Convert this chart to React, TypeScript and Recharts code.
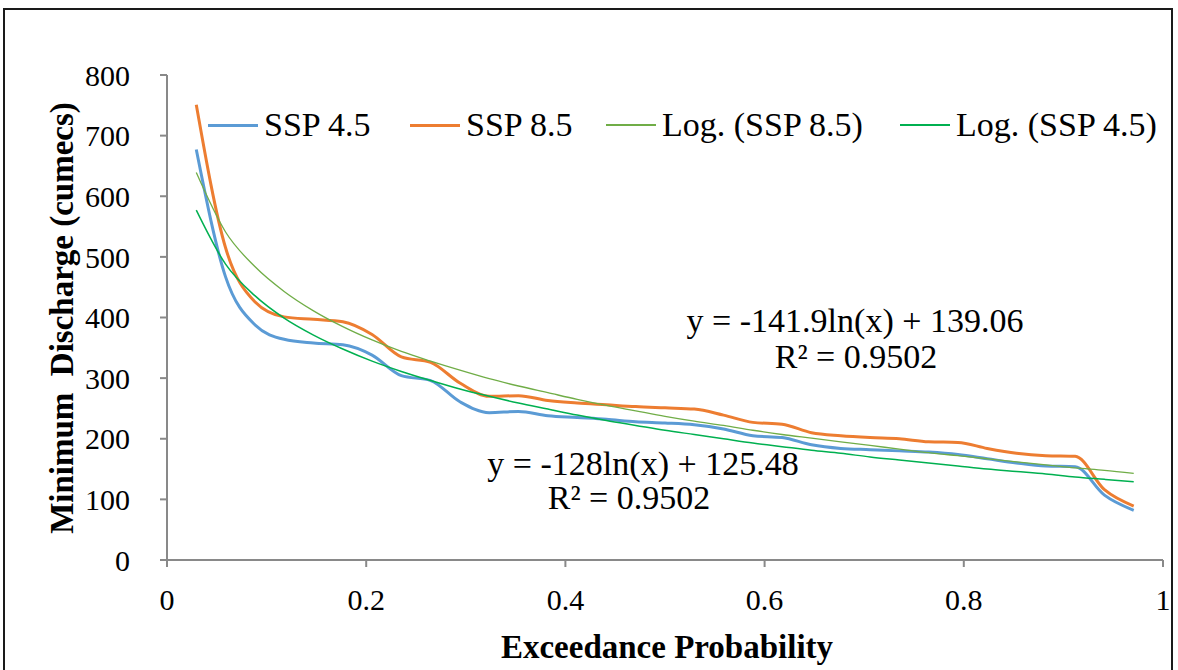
import React from "react";
import { LineChart, Line, XAxis, YAxis } from "recharts";

// exceedance probability of each ranked year
const probability = [
  0.0294, 0.0588, 0.0882, 0.1176, 0.1471, 0.1765, 0.2059, 0.2353, 0.2647, 0.2941,
  0.3235, 0.3529, 0.3824, 0.4118, 0.4412, 0.4706, 0.5, 0.5294, 0.5588, 0.5882,
  0.6176, 0.6471, 0.6765, 0.7059, 0.7353, 0.7647, 0.7941, 0.8235, 0.8529, 0.8824,
  0.9118, 0.9412, 0.9706,
];

const ssp45 = [
  677, 467, 388, 364, 358, 355, 338, 304, 296, 261, 243, 245, 238, 235, 232, 228,
  226, 223, 216, 205, 202, 190, 184, 182, 180, 178, 174, 167, 160, 155, 154, 107, 82,
];

const ssp85 = [
  751, 515, 426, 401, 397, 393, 372, 335, 326, 292, 270, 271, 263, 259, 256, 253,
  251, 249, 239, 227, 224, 210, 205, 202, 200, 195, 194, 184, 176, 172, 171, 116, 89,
];

const logSsp85 = [
  639, 541, 484, 443, 411, 385, 363, 344, 328, 313, 299, 287, 276, 265, 255, 246,
  237, 229, 222, 214, 207, 201, 195, 189, 183, 177, 172, 167, 162, 157, 152, 148, 143,
];

const logSsp45 = [
  577, 488, 436, 399, 371, 348, 328, 311, 296, 282, 270, 259, 249, 239, 230, 222,
  214, 207, 200, 193, 187, 181, 176, 170, 165, 160, 155, 150, 146, 142, 137, 133, 129,
];

const xTicks = [0, 0.2, 0.4, 0.6, 0.8, 1];
const yTicks = [0, 100, 200, 300, 400, 500, 600, 700, 800];

const series = [
  { key: "ssp45", name: "SSP 4.5", color: "#5B9BD5", width: 3, legendX: 208 },
  { key: "ssp85", name: "SSP 8.5", color: "#ED7D31", width: 3, legendX: 410 },
  { key: "logSsp85", name: "Log. (SSP 8.5)", color: "#70AD47", width: 1.3, legendX: 606 },
  { key: "logSsp45", name: "Log. (SSP 4.5)", color: "#00B050", width: 1.5, legendX: 900 },
];

const data = probability.map((p, i) => ({
  p,
  ssp45: ssp45[i],
  ssp85: ssp85[i],
  logSsp85: logSsp85[i],
  logSsp45: logSsp45[i],
}));

const font = "'Liberation Serif', 'Times New Roman', serif";
const axisColor = "#898989";

const text = (left: number, top: number, size: number, extra = {}) =>
  ({
    position: "absolute",
    left,
    top,
    fontSize: size,
    fontFamily: font,
    color: "#000",
    whiteSpace: "nowrap",
    lineHeight: 1,
    ...extra,
  } as React.CSSProperties);

const centered = { transform: "translate(-50%, -50%)" };

export default function App() {
  return (
    <div
      style={{
        position: "absolute",
        left: 0,
        top: 0,
        width: 1178,
        height: 670,
        background: "#fff",
        overflow: "hidden",
      }}
    >
      <div
        style={{
          position: "absolute",
          left: 3,
          top: 8,
          width: 1166,
          height: 720,
          border: "2px solid #1a1a1a",
        }}
      />
      <LineChart
        width={1178}
        height={670}
        data={data}
        margin={{ top: 75, right: 15, bottom: 60, left: 107 }}
      >
        <XAxis
          type="number"
          dataKey="p"
          domain={[0, 1]}
          ticks={xTicks}
          tickFormatter={(v) => String(v)}
          stroke={axisColor}
          strokeWidth={2}
          tickSize={7}
          tickMargin={22}
          height={50}
          tick={{ fill: "#000", fontSize: 30, fontFamily: font }}
        />
        <YAxis
          type="number"
          domain={[0, 800]}
          ticks={yTicks}
          stroke={axisColor}
          strokeWidth={2}
          tickSize={7}
          tickMargin={30}
          width={60}
          tick={{ fill: "#000", fontSize: 30, fontFamily: font }}
        />
        {series.map((s) => (
          <Line
            key={s.key}
            dataKey={s.key}
            name={s.name}
            type="monotone"
            stroke={s.color}
            strokeWidth={s.width}
            dot={false}
            isAnimationActive={false}
          />
        ))}
      </LineChart>

      {/* legend */}
      {series.map((s) => (
        <div
          key={s.key}
          style={{
            position: "absolute",
            left: s.legendX,
            top: 125,
            transform: "translateY(-50%)",
            display: "flex",
            alignItems: "center",
          }}
        >
          <div
            style={{
              width: 50,
              height: 0,
              borderTop: `${Math.max(2, s.width)}px solid ${s.color}`,
              marginRight: 6,
            }}
          />
          <span style={{ fontSize: 34, fontFamily: font, whiteSpace: "nowrap", lineHeight: 1 }}>
            {s.name}
          </span>
        </div>
      ))}

      {/* trendline equations */}
      <div style={text(855, 321, 34, centered)}>y = -141.9ln(x) + 139.06</div>
      <div style={text(856, 357, 34, centered)}>R² = 0.9502</div>
      <div style={text(643, 464, 34, centered)}>y = -128ln(x) + 125.48</div>
      <div style={text(629, 498, 34, centered)}>R² = 0.9502</div>

      {/* axis titles */}
      <div style={text(667, 647, 33, { ...centered, fontWeight: "bold" })}>
        Exceedance Probability
      </div>
      <div
        style={text(62, 318, 33, {
          fontWeight: "bold",
          transform: "translate(-50%, -50%) rotate(-90deg)",
          whiteSpace: "pre",
        })}
      >
        {"Minimum  Discharge (cumecs)"}
      </div>
    </div>
  );
}
